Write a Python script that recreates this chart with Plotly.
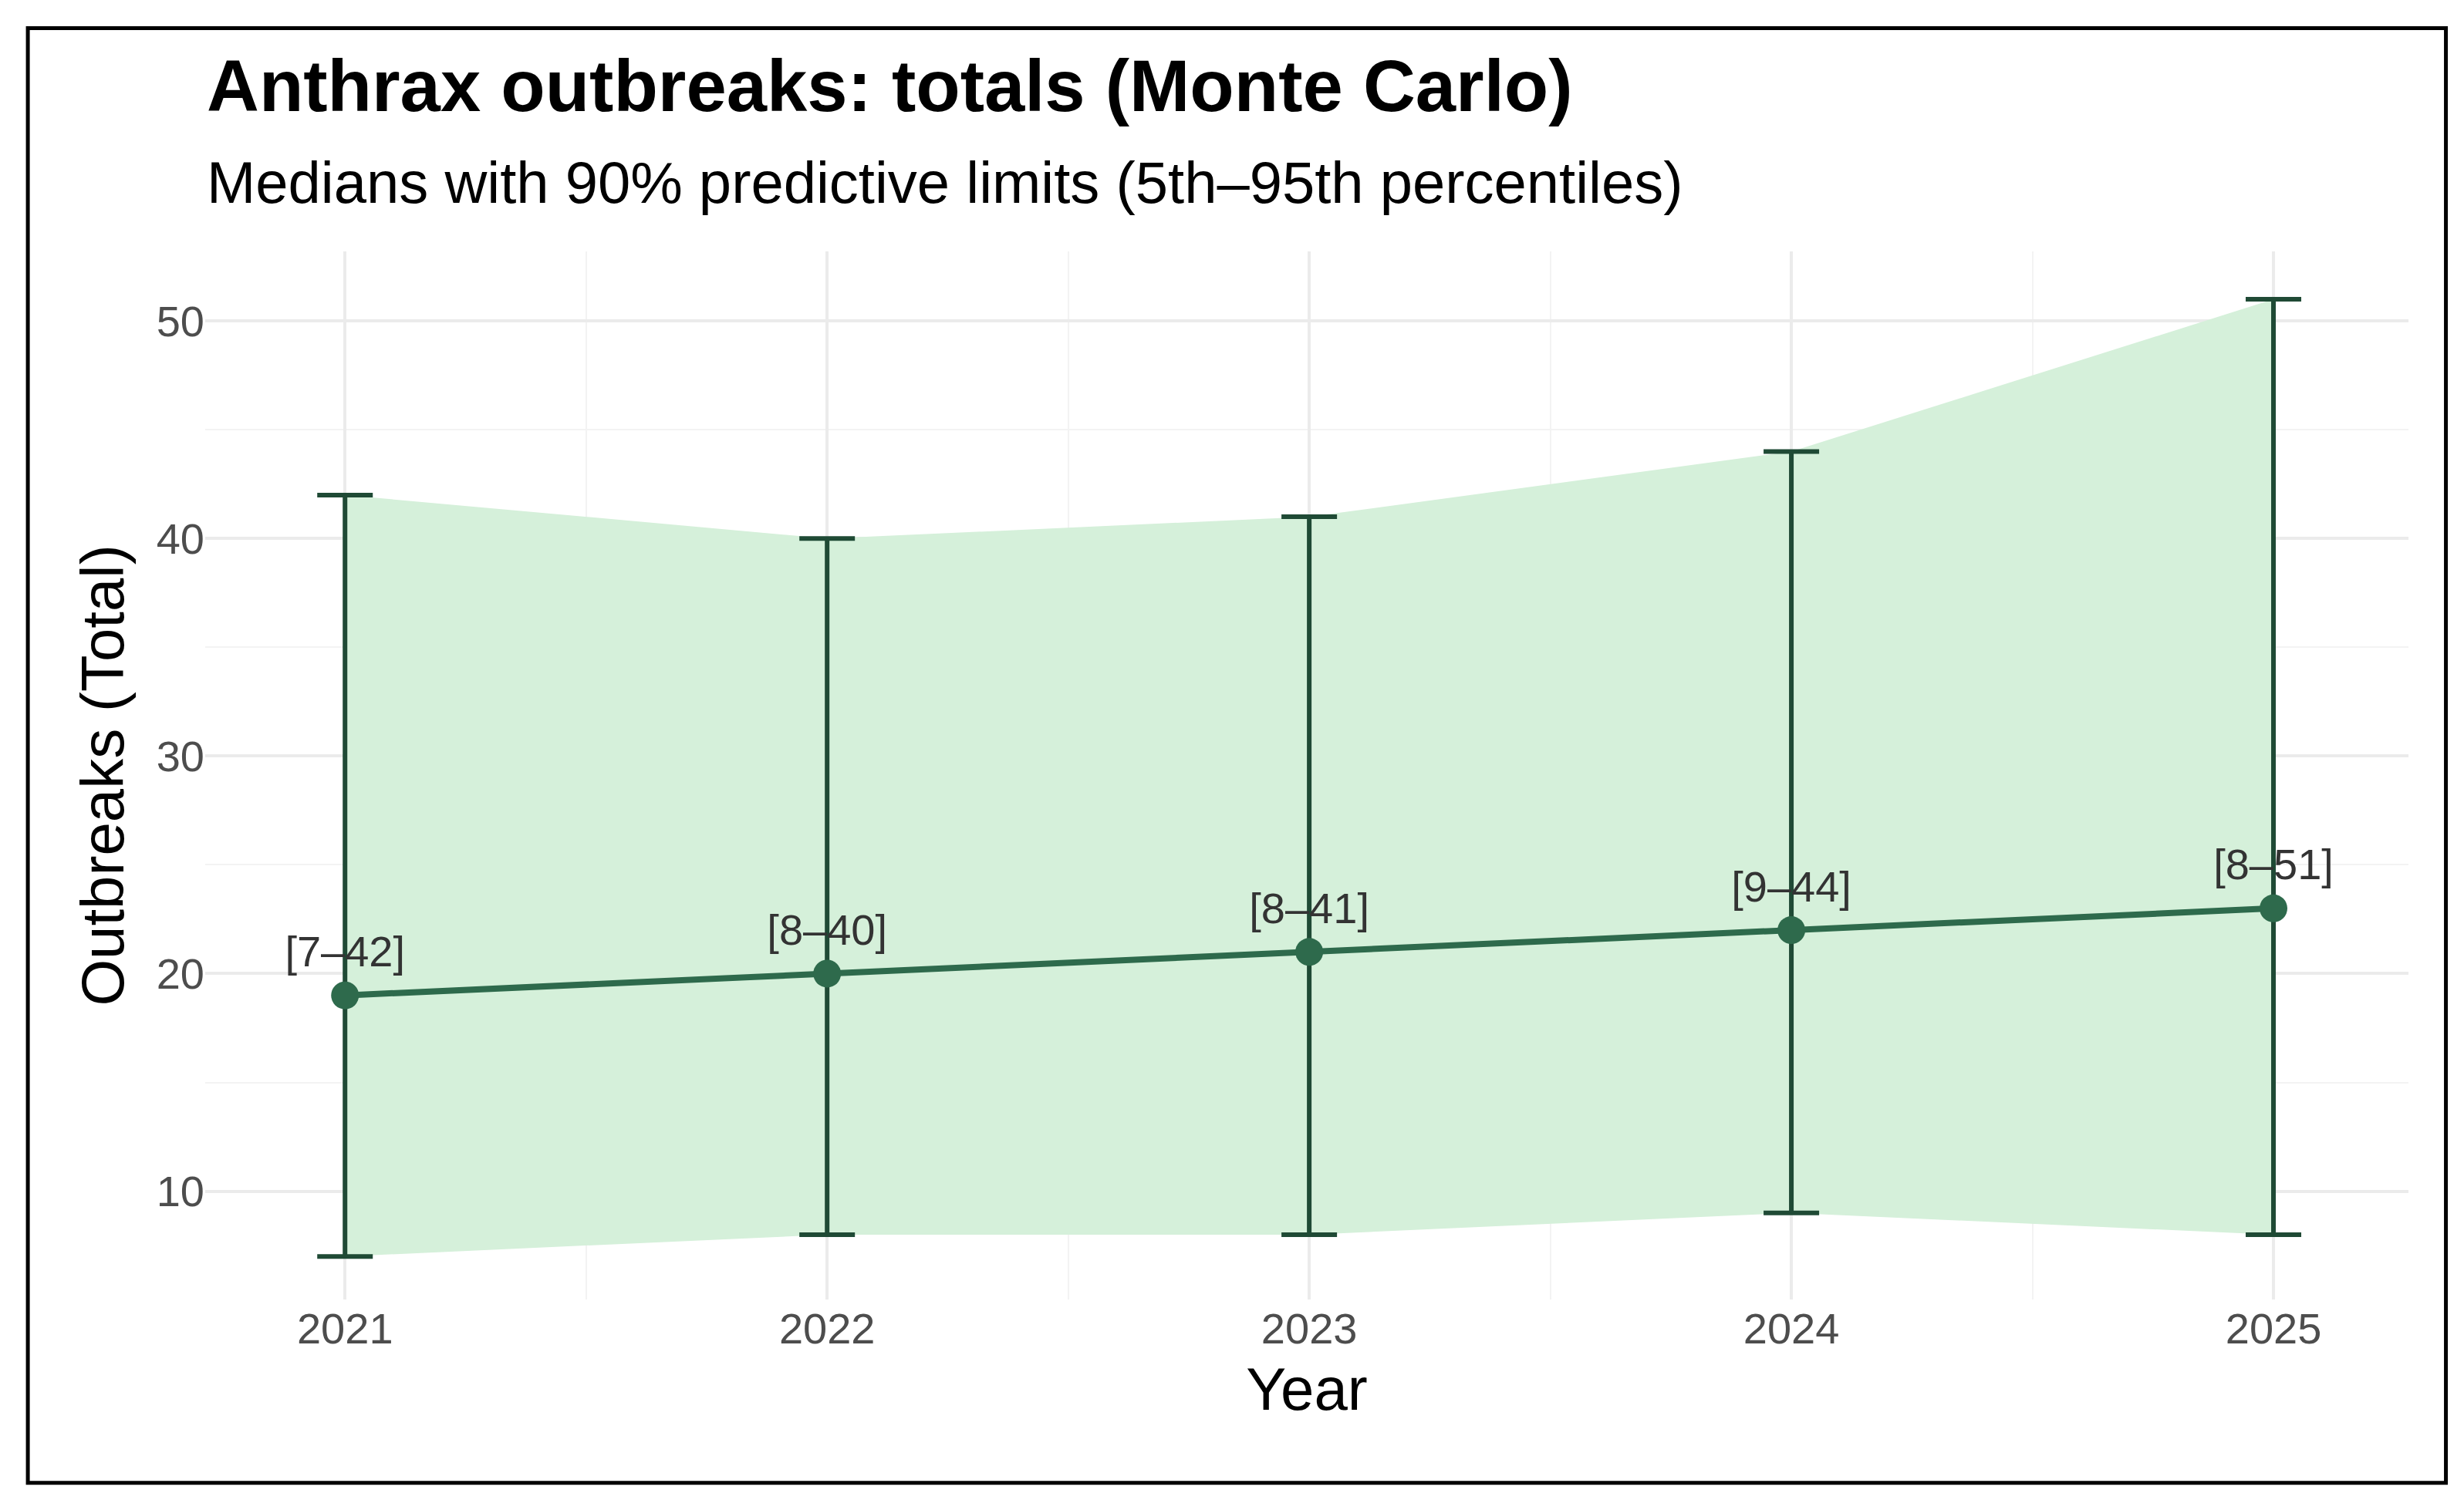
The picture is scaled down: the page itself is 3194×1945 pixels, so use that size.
import plotly.graph_objects as go

years = [2021, 2022, 2023, 2024, 2025]
median = [19, 20, 21, 22, 23]
lower = [7, 8, 8, 9, 8]
upper = [42, 40, 41, 44, 51]
labels = ["[%d–%d]" % (lo, hi) for lo, hi in zip(lower, upper)]

dark = "#1f4a35"
line_col = "#2e6a4c"
ribbon = "#d5f0da"

fig = go.Figure()
# ribbon between 5th and 95th percentiles
fig.add_trace(go.Scatter(x=years, y=upper, mode="lines", line=dict(width=0), hoverinfo="skip"))
fig.add_trace(go.Scatter(x=years, y=lower, mode="lines", line=dict(width=0), fill="tonexty",
                         fillcolor=ribbon, hoverinfo="skip"))
# error bars
fig.add_trace(go.Scatter(x=years, y=median, mode="markers", marker=dict(size=1, color=dark),
                         error_y=dict(type="data", symmetric=False,
                                      array=[u - m for u, m in zip(upper, median)],
                                      arrayminus=[m - lo for m, lo in zip(median, lower)],
                                      color=dark, thickness=6, width=36)))
fig.add_trace(go.Scatter(x=years, y=median, mode="lines+markers+text", text=labels,
                         textposition="top center", textfont=dict(size=56, color="#333333"),
                         line=dict(color=line_col, width=8), marker=dict(size=36, color=line_col)))

font = "Liberation Sans, Arial, sans-serif"
fig.update_layout(
    width=3194, height=1945, showlegend=False,
    paper_bgcolor="white", plot_bgcolor="white",
    margin=dict(l=258, r=80, t=318, b=268),
    font=dict(family=font, size=56, color="#4d4d4d"),
    xaxis=dict(range=[2020.71, 2025.28], tickvals=years, showgrid=True, gridcolor="#ebebeb",
               gridwidth=4, zeroline=False, ticks="", ticklen=12, tickcolor="white",
               minor=dict(dtick=0.5, tick0=2020.5, showgrid=True, gridcolor="#f3f3f3", gridwidth=2),
               title=dict(text="Year", font=dict(size=78, color="black"), standoff=20)),
    yaxis=dict(range=[5.02, 53.2], tickvals=[10, 20, 30, 40, 50], showgrid=True, gridcolor="#ebebeb",
               gridwidth=4, zeroline=False, ticks="", ticklen=12, tickcolor="white",
               minor=dict(tickvals=[15, 25, 35, 45], showgrid=True, gridcolor="#f3f3f3", gridwidth=2),
               title=dict(text="Outbreaks (Total)", font=dict(size=78, color="black"), standoff=16)),
)
fig.add_annotation(text="<b>Anthrax outbreaks: totals (Monte Carlo)</b>", xref="paper", yref="paper",
                   x=0, y=1.158, xanchor="left", yanchor="middle", showarrow=False,
                   font=dict(size=94, color="black"))
fig.add_annotation(text="Medians with 90% predictive limits (5th–95th percentiles)", xref="paper", yref="paper",
                   x=0, y=1.066, xanchor="left", yanchor="middle", showarrow=False,
                   font=dict(size=76, color="black"))
fig.add_shape(type="rect", xref="paper", yref="paper", x0=-0.0805, x1=1.017, y0=-0.175, y1=1.213,
              line=dict(color="black", width=5))

fig.write_html("out.html")
